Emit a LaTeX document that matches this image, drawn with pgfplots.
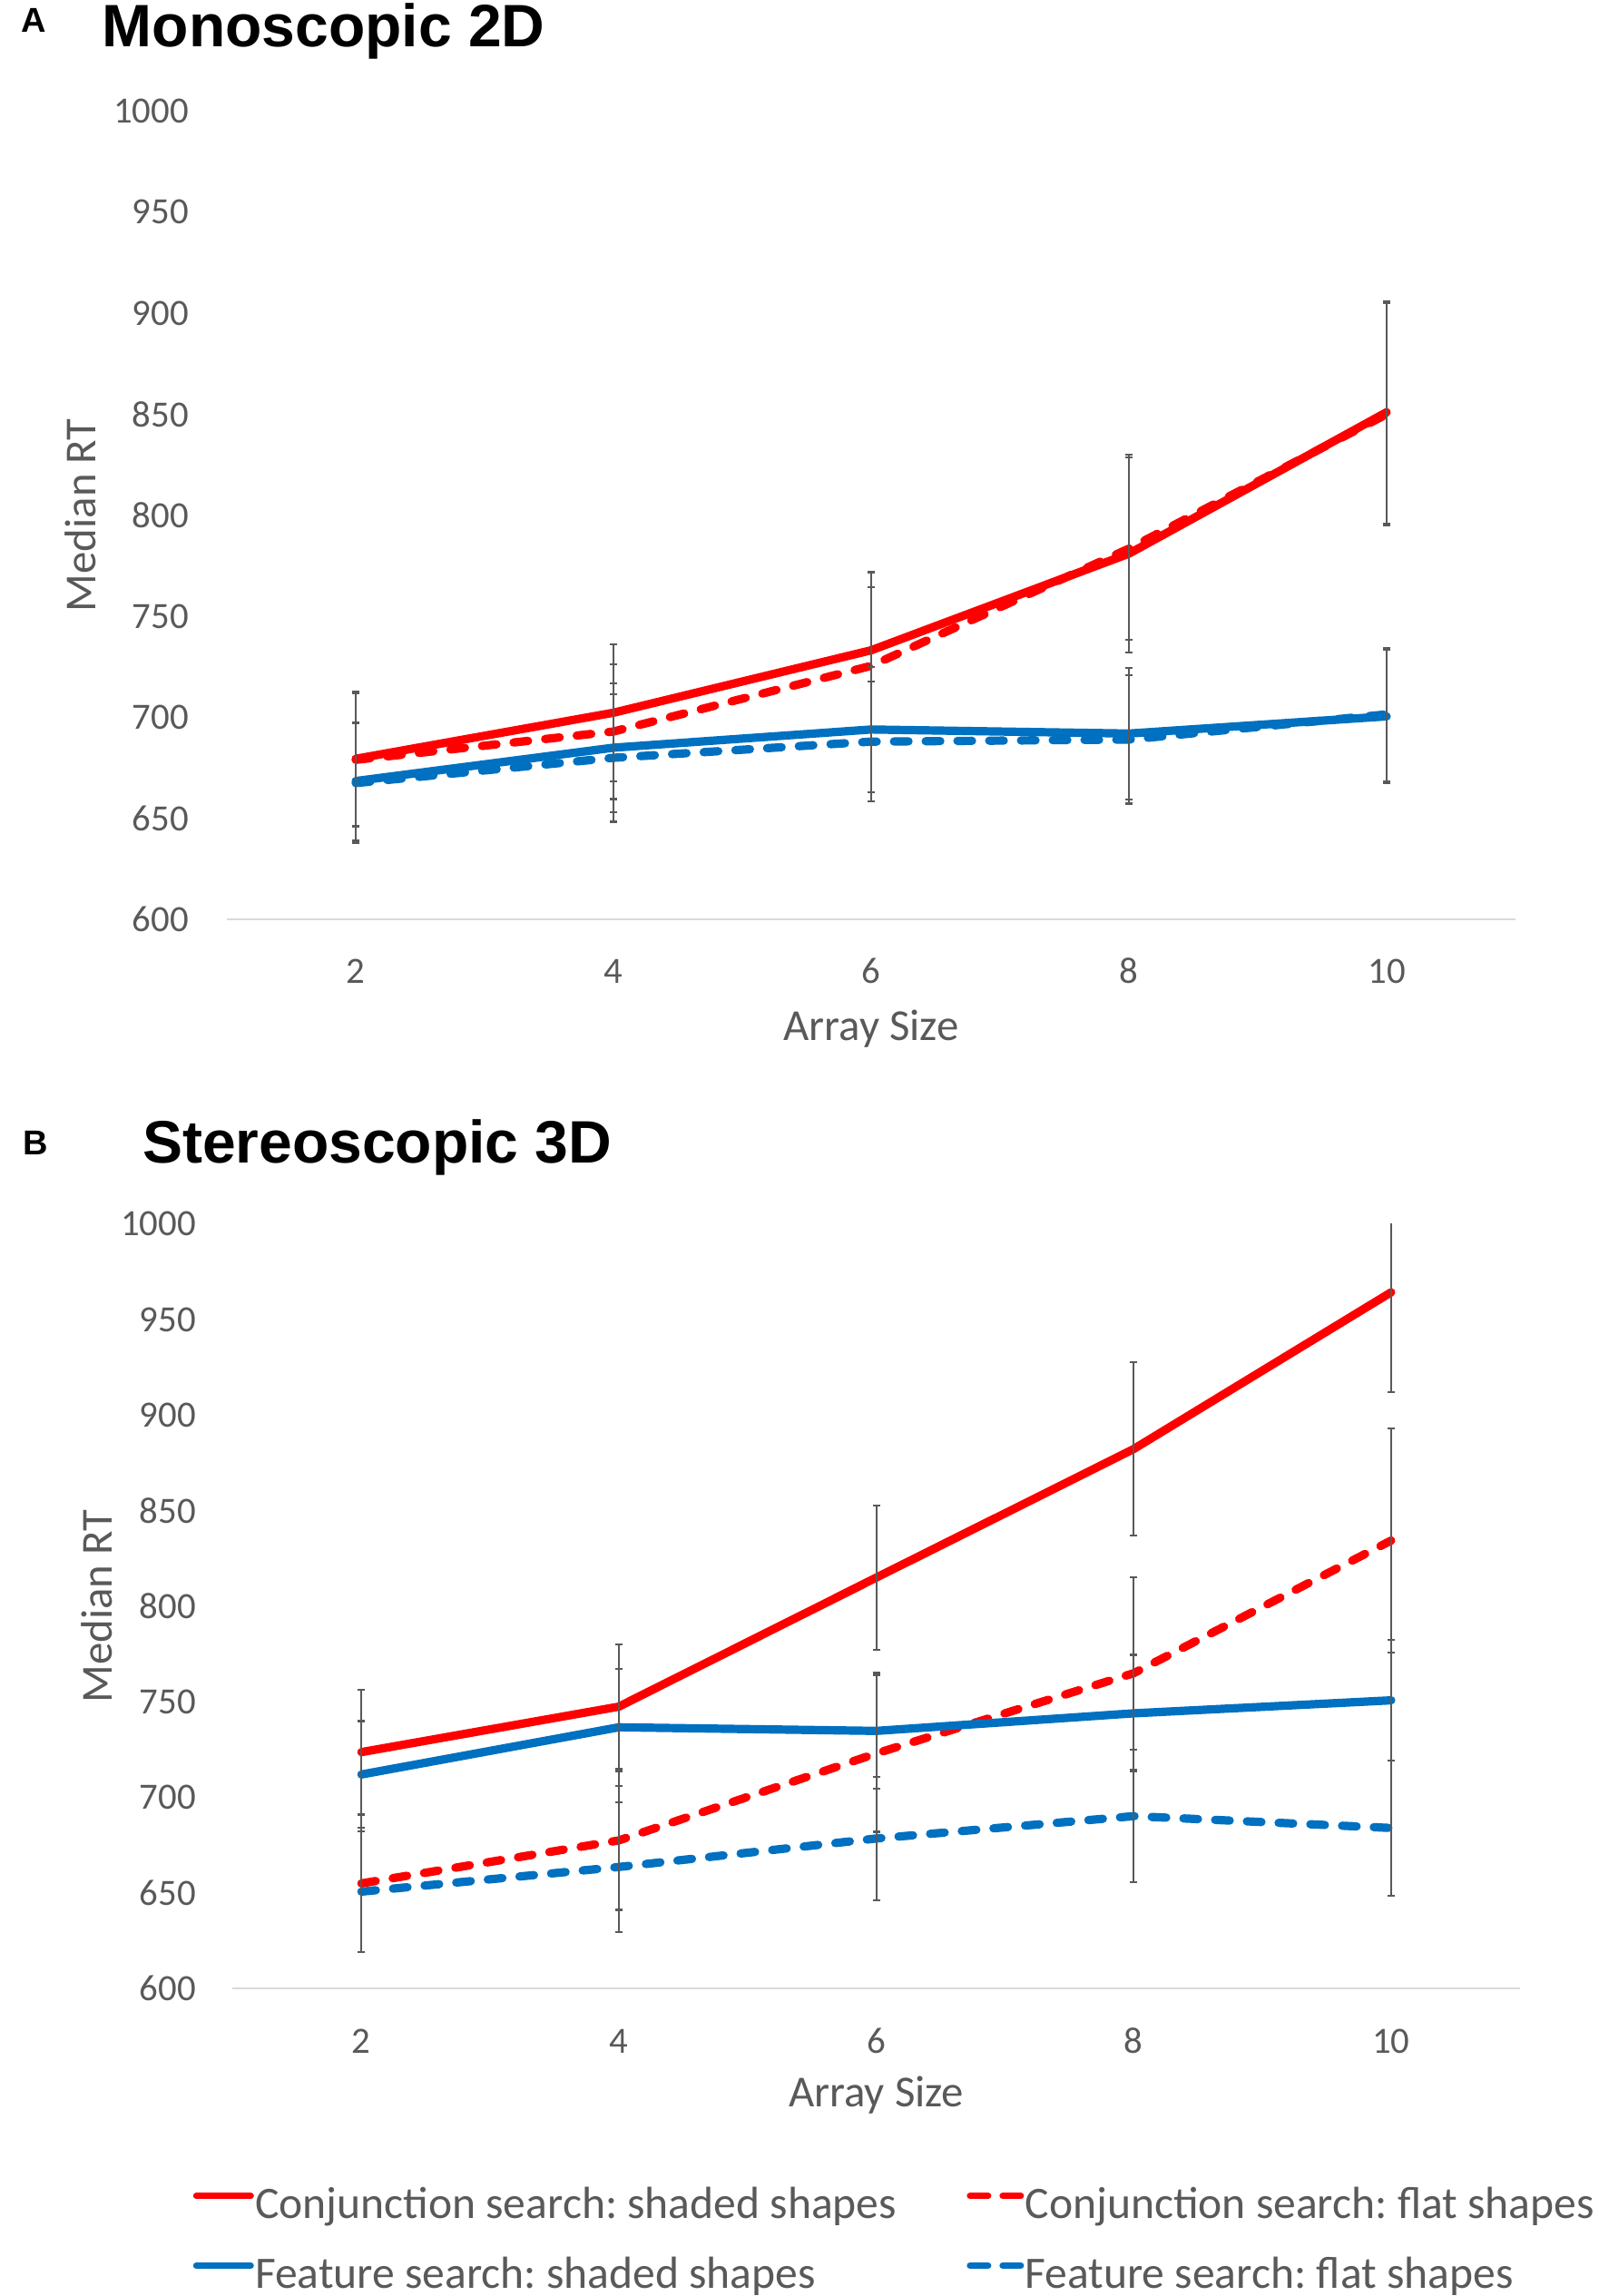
\documentclass[border=0pt]{standalone}
\usepackage{pgfplots}
\usepackage{pgfplotstable}
\pgfplotsset{compat=1.18}
\usepackage{fontspec}
\setmainfont{Carlito}
\newfontfamily\titlefont{Liberation Sans}
\definecolor{cred}{HTML}{FF0000}
\definecolor{cblue}{HTML}{0070C0}
\definecolor{labgray}{HTML}{595959}
\definecolor{axisgray}{HTML}{D9D9D9}
\definecolor{errgray}{HTML}{595959}
\frenchspacing

% Panel A data: x, median RT, error
\pgfplotstableread{
x y e
2 679.5 33.1
4 702.3 34.0
6 733.2 38.6
8 781.0 49.0
10 851.0 55.0
}\ARS
\pgfplotstableread{
x y e
2 679.0 33.0
4 693.0 33.4
6 725.5 39.0
8 783.5 45.0
10 850.0 55.0
}\ARD
\pgfplotstableread{
x y e
2 668.5 29.2
4 685.0 31.9
6 694.0 31.0
8 692.0 32.5
10 700.5 33.0
}\ABS
\pgfplotstableread{
x y e
2 667.5 29.5
4 680.0 31.6
6 688.0 29.6
8 689.0 31.7
10 701.5 33.0
}\ABD
% Panel B data
\pgfplotstableread{
x y e
2 723.7 32.6
4 747.5 32.4
6 815.0 37.8
8 882.3 45.3
10 964.3 52.4
}\BRS
\pgfplotstableread{
x y e
2 655.0 36.0
4 677.5 36.3
6 723.0 41.0
8 765.0 50.3
10 834.4 58.5
}\BRD
\pgfplotstableread{
x y e
2 712.0 27.9
4 736.7 30.6
6 734.8 30.3
8 744.0 30.6
10 750.8 31.6
}\BBS
\pgfplotstableread{
x y e
2 650.7 31.5
4 663.6 34.0
6 678.5 32.4
8 690.2 34.6
10 684.0 35.3
}\BBD

\pgfplotsset{
  myaxis/.style={
    scale only axis,
    xmin=1, xmax=11, ymin=600, ymax=1000,
    xtick={2,4,6,8,10}, ytick={600,650,...,1000},
    major tick length=0pt,
    axis x line*=bottom, axis y line*=left,
    x axis line style={draw=axisgray, line width=0.6pt, -},
    y axis line style={draw=none, -},
    tick label style={font=\fontsize{10.2}{12}\selectfont, text=labgray},
    /pgf/number format/assume math mode=true,
    /pgf/number format/set thousands separator={},
    xticklabel style={anchor=base, inner sep=0pt, yshift=-17.7pt},
    label style={font=\fontsize{12.2}{14}\selectfont, text=labgray},
    xlabel={Array Size}, ylabel={Median RT},
    clip=true,
    error bars/y dir=both, error bars/y explicit,
    error bars/error bar style={line width=0.55pt, draw=errgray, solid, line cap=butt},
    error bars/error mark options={line width=0.55pt, draw=errgray, solid, mark size=1pt, rotate=90},
  },
  solidline/.style={line width=2.3pt, line cap=round, line join=round, mark=none},
  dashline/.style={line width=2.3pt, line cap=round, line join=round, mark=none, dash pattern=on 4pt off 4.75pt},
  dashlegend/.style={legend image code/.code={%
      \draw[##1, solid, line width=1.75pt] (0.6pt,3.2pt) -- (5.6pt,3.2pt);
      \draw[##1, solid, line width=1.75pt] (9.6pt,3.2pt) -- (14.6pt,3.2pt);}},
}

\begin{document}
\begin{tikzpicture}
\useasboundingbox (0,0) rectangle (440.5pt,632.5pt);

% Panel A labels
\node[anchor=base west, inner sep=0pt] at (5.6pt,623.6pt) {\titlefont\bfseries\fontsize{9.5}{11}\selectfont A};
\node[anchor=base west, inner sep=0pt] at (28pt,619.5pt) {\titlefont\bfseries\fontsize{16.5}{19}\selectfont Monoscopic 2D};

\begin{axis}[myaxis,
  at={(62.5pt,379.2pt)}, anchor=south west,
  width=355pt, height=222.7pt,
  yticklabel style={anchor=east, inner sep=0pt, xshift=-10.3pt},
  xlabel style={at={(axis description cs:0.5,-0.150)}, anchor=base},
  ylabel style={at={(axis description cs:-0.1135,0.5)}, anchor=center},
]
\addplot[solidline, cred] table[x=x, y=y, y error=e] {\ARS};
\addplot[dashline, cred] table[x=x, y=y, y error=e] {\ARD};
\addplot[solidline, cblue] table[x=x, y=y, y error=e] {\ABS};
\addplot[dashline, cblue] table[x=x, y=y, y error=e] {\ABD};
\end{axis}

% Panel B labels
\node[anchor=base west, inner sep=0pt] at (6.2pt,314.3pt) {\titlefont\bfseries\fontsize{9.5}{11}\selectfont B};
\node[anchor=base west, inner sep=0pt] at (39.1pt,312.15pt) {\titlefont\bfseries\fontsize{16.5}{19}\selectfont Stereoscopic 3D};

\begin{axis}[myaxis,
  at={(64.1pt,84.7pt)}, anchor=south west,
  width=354.6pt, height=210.6pt,
  yticklabel style={anchor=east, inner sep=0pt, xshift=-9.9pt},
  xlabel style={at={(axis description cs:0.5,-0.155)}, anchor=base},
  ylabel style={at={(axis description cs:-0.1058,0.5)}, anchor=center},
  legend columns=2,
  legend cell align=left,
  legend image code/.code={\draw[#1, line width=1.75pt] (0pt,3.2pt) -- (15pt,3.2pt);},
  legend style={draw=none, fill=none, at={(axis description cs:-0.0313,-0.258)}, anchor=north west,
    inner sep=0pt, font=\fontsize{12.4}{14}\selectfont, text=labgray, row sep=7.6pt,
    /tikz/every even column/.append style={column sep=19pt},
    nodes={inner sep=0.3pt, text height=8.5pt, text depth=2.5pt}},
]
\addplot[solidline, cred] table[x=x, y=y, y error=e] {\BRS};
\addlegendentry{Conjunction search: shaded shapes}
\addplot[dashline, cred, dashlegend] table[x=x, y=y, y error=e] {\BRD};
\addlegendentry{Conjunction search: flat shapes}
\addplot[solidline, cblue] table[x=x, y=y, y error=e] {\BBS};
\addlegendentry{Feature search: shaded shapes}
\addplot[dashline, cblue, dashlegend] table[x=x, y=y, y error=e] {\BBD};
\addlegendentry{Feature search: flat shapes}
\end{axis}
\end{tikzpicture}
\end{document}
